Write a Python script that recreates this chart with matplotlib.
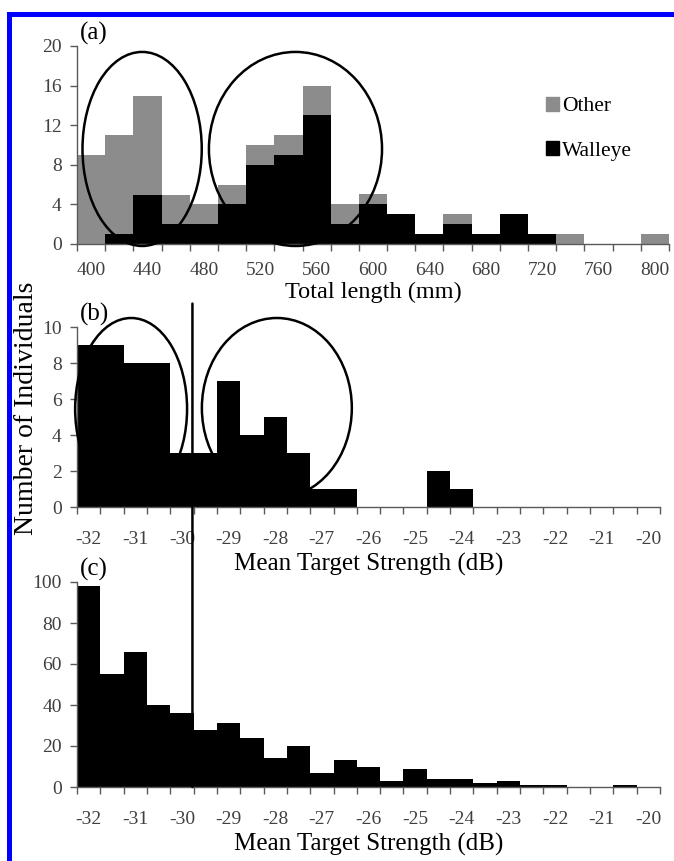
import numpy as np
import matplotlib
matplotlib.use('Agg')
import matplotlib.pyplot as plt
from matplotlib.patches import Ellipse, Patch, ConnectionPatch
from matplotlib.lines import Line2D

plt.rcParams['font.family'] = ['Liberation Serif', 'DejaVu Serif']

# ----- data -----
# (a) total length bins (mm), 20 mm wide
length_bins = [400, 420, 440, 460, 480, 500, 520, 540, 560, 580, 600,
               620, 640, 660, 680, 700, 720, 740, 760, 780, 800]
walleye_a = [0, 1, 5, 2, 2, 4, 8, 9, 13, 2, 4, 3, 1, 2, 1, 3, 1, 0, 0, 0, 0]
other_a   = [9, 10, 10, 3, 2, 2, 2, 2, 3, 2, 1, 0, 0, 1, 0, 0, 0, 1, 0, 0, 1]
length_labels = ['400', '440', '480', '520', '560', '600', '640', '680',
                 '720', '760', '800']

# (b), (c) mean target strength bins (dB), 0.5 dB wide
ts_bins = [-32, -31.5, -31, -30.5, -30, -29.5, -29, -28.5, -28, -27.5, -27,
           -26.5, -26, -25.5, -25, -24.5, -24, -23.5, -23, -22.5, -22, -21.5,
           -21, -20.5, -20]
counts_b = [9, 9, 8, 8, 3, 3, 7, 4, 5, 3, 1, 1, 0, 0, 0, 2, 1, 0, 0, 0, 0,
            0, 0, 0, 0]
counts_c = [98, 55, 66, 40, 36, 28, 31, 24, 14, 20, 7, 13, 10, 3, 9, 4, 4,
            2, 3, 1, 1, 0, 0, 1, 0]
ts_labels = ['-32', '-31', '-30', '-29', '-28', '-27', '-26', '-25', '-24',
             '-23', '-22', '-21', '-20']

W, H = 674, 861
fig = plt.figure(figsize=(W / 100, H / 100), dpi=100)

tick_col = '#404040'
spine_col = '#5a5a5a'


def px_axes(left, right, top, bottom):
    return fig.add_axes([left / W, 1 - bottom / H, (right - left) / W, (bottom - top) / H])


def style(ax, n, labels, xpad):
    for s in ['top', 'right']:
        ax.spines[s].set_visible(False)
    for s in ['left', 'bottom']:
        ax.spines[s].set_color(spine_col)
        ax.spines[s].set_linewidth(1.0)
    ax.set_xlim(-0.5, n - 0.5)
    ax.set_xticks(np.arange(-0.5, n, 1), minor=True)
    ax.set_xticks(np.arange(0, n, 2))
    ax.set_xticklabels(labels)
    ax.tick_params(axis='x', which='major', length=0, pad=xpad, labelsize=14,
                   labelcolor=tick_col)
    ax.tick_params(axis='x', which='minor', length=5, width=1, color=spine_col,
                   direction='out')
    ax.tick_params(axis='y', length=5, width=1, color=spine_col, pad=6,
                   labelsize=14, labelcolor=tick_col, direction='out')
    ax.set_facecolor('none')


def panel_label(ax, s):
    ax.annotate(s, xy=(0, 1), xycoords='axes fraction', xytext=(2, 9),
                textcoords='offset points', fontsize=18, ha='left', va='center')


# ----- panel (a) -----
ax1 = px_axes(77, 669, 46, 244)
x_a = np.arange(len(length_bins))
ax1.bar(x_a, walleye_a, width=1.0, color='black', label='Walleye')
ax1.bar(x_a, other_a, width=1.0, bottom=walleye_a, color='#8c8c8c', label='Other')
ax1.set_ylim(0, 20)
ax1.set_yticks(range(0, 21, 4))
style(ax1, len(length_bins), length_labels, 13)
ax1.set_xlabel('Total length (mm)', fontsize=17.5, labelpad=2)
for cx, w in [(1.81, 4.23), (7.25, 6.14)]:
    ax1.add_patch(Ellipse((cx, 9.6), w, 19.6, fill=False, lw=1.8,
                          color='black', clip_on=False, zorder=5))
panel_label(ax1, '(a)')
handles = [Patch(color='#8c8c8c', label='Other'), Patch(color='black', label='Walleye')]
fig.legend(handles=handles, loc='upper left', bbox_to_anchor=(546 / W, 1 - 97 / H),
           frameon=False, fontsize=15.5, handlelength=0.6, handleheight=0.6,
           handletextpad=0.15, labelspacing=1.15, borderpad=0, borderaxespad=0)

# ----- panel (b) -----
ax2 = px_axes(77, 660, 327, 507)
x_ts = np.arange(len(ts_bins))
ax2.bar(x_ts, counts_b, width=1.0, color='black')
ax2.set_ylim(0, 10)
ax2.set_yticks(range(0, 11, 2))
style(ax2, len(ts_bins), ts_labels, 17)
ax2.set_xlabel('Mean Target Strength (dB)', fontsize=18, labelpad=4)
ax2.add_patch(Ellipse((1.82, 5.45), 4.8, 10.1, fill=False, lw=1.8,
                      color='black', clip_on=False, zorder=5))
ax2.add_patch(Ellipse((8.07, 5.5), 6.43, 10.0, fill=False, lw=1.8,
                      color='black', clip_on=False, zorder=5))
panel_label(ax2, '(b)')

# ----- panel (c) -----
ax3 = px_axes(77, 660, 582, 787)
ax3.bar(x_ts, counts_c, width=1.0, color='black')
ax3.set_ylim(0, 100)
ax3.set_yticks(range(0, 101, 20))
style(ax3, len(ts_bins), ts_labels, 17)
ax3.set_xlabel('Mean Target Strength (dB)', fontsize=18, labelpad=4)
panel_label(ax3, '(c)')

# threshold line running through (b) and (c)
con = ConnectionPatch(xyA=(4.45, 11.3), coordsA=ax2.transData,
                      xyB=(4.45, 0), coordsB=ax3.transData,
                      color='black', lw=1.8, zorder=6)
fig.add_artist(con)

fig.text(27 / W, 1 - 408 / H, 'Number of Individuals', rotation=90,
         fontsize=20, ha='center', va='center')

# blue frame (left and top)
fig.add_artist(Line2D([8.5 / W, 8.5 / W, 1.0], [0.0, 1 - 13.5 / H, 1 - 13.5 / H],
                      transform=fig.transFigure, color='#0000ff', lw=3.6,
                      solid_joinstyle='miter'))

fig.savefig('out.png', dpi=100)
